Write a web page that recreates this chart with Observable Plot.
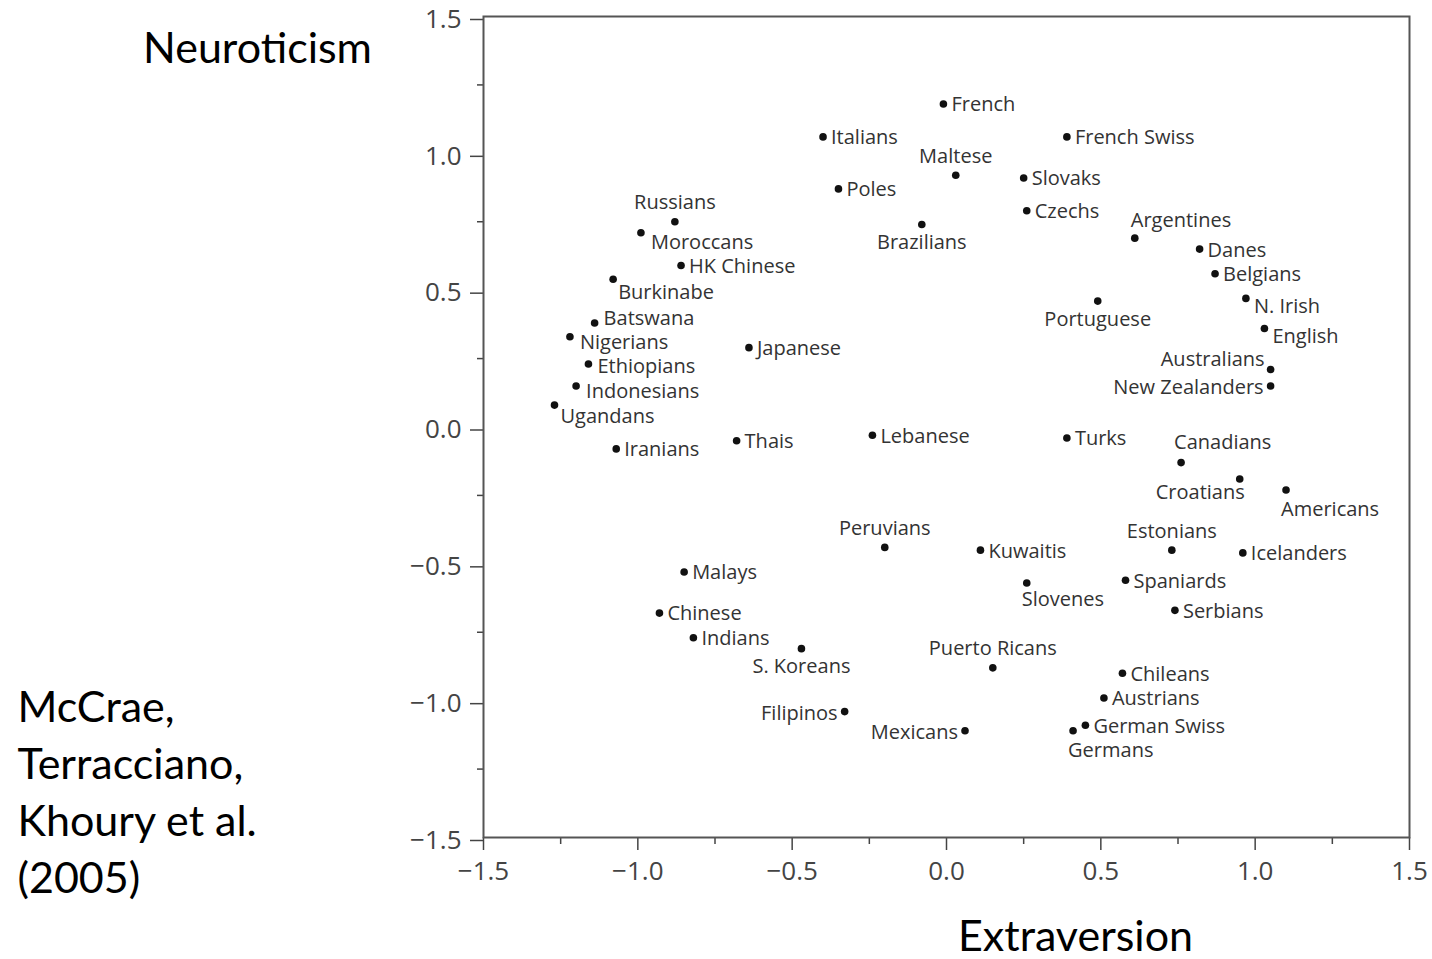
<!DOCTYPE html>
<html>
<head>
<meta charset="utf-8">
<script src="https://cdn.jsdelivr.net/npm/d3@7"></script>
<script src="https://cdn.jsdelivr.net/npm/@observablehq/plot@0.6"></script>
<style>
  html, body { margin: 0; padding: 0; background: #fff; }
  #chart svg { display: block; }
</style>
</head>
<body>
<div id="chart"></div>
<script>
// ---- data ----
const names = ["French","Italians","French Swiss","Maltese","Slovaks","Poles","Czechs","Russians","Brazilians","Moroccans",
  "Argentines","Danes","HK Chinese","Belgians","Burkinabe","N. Irish","Portuguese","Batswana","English","Nigerians",
  "Japanese","Ethiopians","Australians","Indonesians","New Zealanders","Ugandans","Lebanese","Turks","Thais","Iranians",
  "Canadians","Croatians","Americans","Peruvians","Kuwaitis","Estonians","Icelanders","Malays","Spaniards","Slovenes",
  "Serbians","Chinese","Indians","S. Koreans","Puerto Ricans","Chileans","Austrians","Filipinos","German Swiss","Mexicans","Germans"];
const extraversion = [-0.01,-0.40,0.39,0.03,0.25,-0.35,0.26,-0.88,-0.08,-0.99,
  0.61,0.82,-0.86,0.87,-1.08,0.97,0.49,-1.14,1.03,-1.22,
  -0.64,-1.16,1.05,-1.20,1.05,-1.27,-0.24,0.39,-0.68,-1.07,
  0.76,0.95,1.10,-0.20,0.11,0.73,0.96,-0.85,0.58,0.26,
  0.74,-0.93,-0.82,-0.47,0.15,0.57,0.51,-0.33,0.45,0.06,0.41];
const neuroticism = [1.18,1.06,1.06,0.92,0.91,0.87,0.79,0.75,0.74,0.71,
  0.69,0.65,0.59,0.56,0.54,0.47,0.46,0.38,0.36,0.33,
  0.29,0.23,0.21,0.15,0.15,0.08,-0.03,-0.04,-0.05,-0.08,
  -0.13,-0.19,-0.23,-0.44,-0.45,-0.45,-0.46,-0.53,-0.56,-0.57,
  -0.67,-0.68,-0.77,-0.81,-0.88,-0.90,-0.99,-1.04,-1.09,-1.11,-1.11];
const majorTicks = [-1.5,-1.0,-0.5,0.0,0.5,1.0,1.5];
const minorTicks = [-1.25,-0.75,-0.25,0.25,0.75,1.25];
const xLabel = "Extraversion";
const yLabel = "Neuroticism";
const source = "McCrae,\nTerracciano,\nKhoury et al.\n(2005)";

// label placement (which side of the dot each country name sits)
const placements = {
  right:      {dx: 8,  dy: 1,   textAnchor: "start"},
  rightLowA:  {dx: 10, dy: 10,  textAnchor: "start"},
  rightLowB:  {dx: 5,  dy: 13,  textAnchor: "start"},
  rightLowC:  {dx: 8,  dy: 8,   textAnchor: "start"},
  rightLowD:  {dx: 10, dy: 6,   textAnchor: "start"},
  rightLowE:  {dx: 9,  dy: 3,   textAnchor: "start"},
  rightLowF:  {dx: 6,  dy: 11,  textAnchor: "start"},
  rightHigh:  {dx: 9,  dy: -4,  textAnchor: "start"},
  above:      {dx: 0,  dy: -19, textAnchor: "middle"},
  aboveStartA:{dx: -4, dy: -18, textAnchor: "start"},
  aboveStartB:{dx: -7, dy: -20, textAnchor: "start"},
  below:      {dx: 0,  dy: 18,  textAnchor: "middle"},
  belowStartA:{dx: -5, dy: 17,  textAnchor: "start"},
  belowStartB:{dx: -5, dy: 20,  textAnchor: "start"},
  belowEnd:   {dx: 5,  dy: 14,  textAnchor: "end"},
  leftHigh:   {dx: -6, dy: -10, textAnchor: "end"},
  left:       {dx: -7, dy: 2,   textAnchor: "end"}
};
const labelPlacement = {
  "Maltese":"above","Russians":"above","Peruvians":"above","Estonians":"above","Puerto Ricans":"above",
  "Argentines":"aboveStartA","Canadians":"aboveStartB",
  "Brazilians":"below","Portuguese":"below","S. Koreans":"below",
  "Slovenes":"belowStartA","Germans":"belowStartB","Americans":"belowStartB",
  "Croatians":"belowEnd","Australians":"leftHigh",
  "New Zealanders":"left","Filipinos":"left","Mexicans":"left",
  "Moroccans":"rightLowA","Burkinabe":"rightLowB","N. Irish":"rightLowC","English":"rightLowC",
  "Nigerians":"rightLowD","Indonesians":"rightLowD","Ethiopians":"rightLowE","Ugandans":"rightLowF",
  "Batswana":"rightHigh"
};

const data = names.map((n, i) => ({name: n, e: extraversion[i], n: neuroticism[i], place: labelPlacement[n] || "right"}));
const groups = d3.group(data, d => d.place);

const fmt = d3.format(".1f");
const labelFont = "'Open Sans', 'Noto Sans', sans-serif";
const bigFont = "Lato, 'Open Sans', sans-serif";

const textMarks = Array.from(groups, ([key, rows]) =>
  Plot.text(rows, {x: "e", y: "n", text: "name", ...placements[key],
    fontSize: 20, fill: "#333", fontFamily: labelFont})
);

const chart = Plot.plot({
  width: 1432,
  height: 959,
  marginLeft: 483,
  marginRight: 23,
  marginTop: 16,
  marginBottom: 122,
  style: {fontFamily: labelFont, background: "#fff", color: "#444"},
  x: {domain: [-1.5, 1.5]},
  y: {domain: [-1.5, 1.5]},
  marks: [
    Plot.axisX(minorTicks, {tickSize: 7, tickFormat: null, stroke: "#444", strokeWidth: 1.5, text: null, label: null}),
    Plot.axisY(minorTicks, {tickSize: 6, tickFormat: null, stroke: "#444", strokeWidth: 1.5, text: null, label: null}),
    Plot.axisX(majorTicks, {tickSize: 13, tickPadding: 11, tickFormat: fmt, fontSize: 26, fill: "#444",
      stroke: "#444", strokeWidth: 1.5, label: null}),
    Plot.axisY(majorTicks, {tickSize: 13, tickPadding: 9, tickFormat: fmt, fontSize: 26, fill: "#444",
      stroke: "#444", strokeWidth: 1.5, label: null, dy: 3}),
    Plot.frame({stroke: "#555", strokeWidth: 2}),
    Plot.dot(data, {x: "e", y: "n", r: 3.8, fill: "#111", stroke: null}),
    ...textMarks,
    Plot.text([yLabel], {frameAnchor: "top-left", dx: -226, dy: 16, textAnchor: "middle",
      fontSize: 43, fontFamily: bigFont, fill: "#000"}),
    Plot.text([xLabel], {frameAnchor: "bottom", dx: 129, dy: 113, textAnchor: "middle",
      fontSize: 43, fontFamily: bigFont, fill: "#000"}),
    Plot.text([source], {frameAnchor: "left", dx: -466, dy: 362, textAnchor: "start", lineHeight: 1.33,
      fontSize: 43, fontFamily: bigFont, fill: "#000"})
  ]
});
document.getElementById("chart").appendChild(chart);
</script>
</body>
</html>
